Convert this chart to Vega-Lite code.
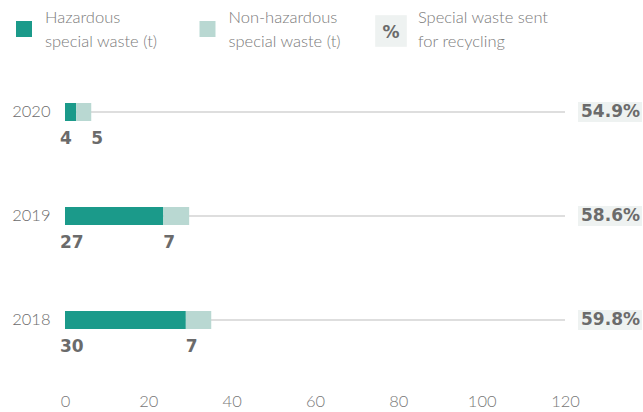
{
  "$schema": "https://vega.github.io/schema/vega-lite/v6.json",
  "padding": {"left": 0, "top": 0, "right": 0, "bottom": 0},
  "spacing": 0,
  "background": "white",
  "config": {"view": {"stroke": null}, "font": "Lato"},
  "datasets": {
    "segments": [
      {"year": "2020", "type": "Hazardous", "tons": 2.7, "label": "4"},
      {"year": "2020", "type": "Non-hazardous", "tons": 3.6, "label": "5"},
      {"year": "2019", "type": "Hazardous", "tons": 23.6, "label": "27"},
      {"year": "2019", "type": "Non-hazardous", "tons": 6.2, "label": "7"},
      {"year": "2018", "type": "Hazardous", "tons": 29.0, "label": "30"},
      {"year": "2018", "type": "Non-hazardous", "tons": 6.1, "label": "7"}
    ],
    "years": [
      {"year": "2020", "recycled": "54.9%"},
      {"year": "2019", "recycled": "58.6%"},
      {"year": "2018", "recycled": "59.8%"}
    ],
    "legendItems": [
      {"type": "Hazardous", "label": "Hazardous\nspecial waste (t)", "symbol": ""},
      {"type": "Non-hazardous", "label": "Non-hazardous\nspecial waste (t)", "symbol": ""},
      {"type": "Recycled", "label": "Special waste sent\nfor recycling", "symbol": "%"}
    ]
  },
  "vconcat": [
    {
      "width": 367,
      "height": 60,
      "data": {"name": "legendItems"},
      "encoding": {
        "x": {"field": "type", "type": "nominal", "scale": {"type": "point", "padding": 0, "domain": ["Hazardous", "Non-hazardous", "Recycled"]}, "axis": null}
      },
      "layer": [
        {
          "transform": [{"filter": "datum.type != 'Recycled'"}],
          "mark": {"type": "square", "size": 256, "opacity": 1, "xOffset": -41, "yOffset": -1},
          "encoding": {
            "color": {"field": "type", "type": "nominal", "scale": {"domain": ["Hazardous", "Non-hazardous"], "range": ["#1b9a8a", "#b9d8d2"]}, "legend": null}
          }
        },
        {
          "transform": [{"filter": "datum.type == 'Recycled'"}],
          "mark": {"type": "square", "size": 1000, "opacity": 1, "color": "#eef2f1", "xOffset": -41, "yOffset": 1}
        },
        {
          "transform": [{"filter": "datum.type == 'Recycled'"}],
          "mark": {"type": "text", "font": "DejaVu Sans", "fontWeight": "bold", "fontSize": 17, "color": "#6b6b6b", "xOffset": -41, "yOffset": 3, "baseline": "middle", "align": "center"},
          "encoding": {"text": {"field": "symbol"}}
        },
        {
          "transform": [{"filter": "datum.type != 'Recycled'"}],
          "mark": {"type": "text", "fontSize": 16.5, "fontWeight": 300, "color": "#7a7a7a", "align": "left", "baseline": "middle", "lineBreak": "\n", "lineHeight": 24, "xOffset": -41, "dx": 21, "yOffset": -12},
          "encoding": {"text": {"field": "label"}}
        },
        {
          "transform": [{"filter": "datum.type == 'Recycled'"}],
          "mark": {"type": "text", "fontSize": 16.5, "fontWeight": 300, "color": "#7a7a7a", "align": "left", "baseline": "middle", "lineBreak": "\n", "lineHeight": 24, "xOffset": -41, "dx": 27, "yOffset": -12},
          "encoding": {"text": {"field": "label"}}
        }
      ]
    },
    {
      "width": 500,
      "height": 312,
      "encoding": {
        "y": {
          "field": "year", "type": "ordinal", "sort": ["2020", "2019", "2018"],
          "scale": {"paddingInner": 0, "paddingOuter": 0},
          "axis": {"title": null, "domain": false, "ticks": false, "labelPadding": 15, "labelFontSize": 16.5, "labelFontWeight": 300, "labelColor": "#6b6b6b", "labelFont": "Lato", "minExtent": 65, "maxExtent": 65}
        }
      },
      "layer": [
        {
          "data": {"name": "years"},
          "mark": {"type": "rule", "color": "#dedede", "strokeWidth": 2},
          "encoding": {
            "x": {"datum": 0, "type": "quantitative", "scale": {"domain": [0, 120], "nice": false},
              "axis": {"title": null, "domain": false, "ticks": false, "grid": false, "labelFlush": false, "values": [0, 20, 40, 60, 80, 100, 120], "labelPadding": 21, "labelFontSize": 16.5, "labelFontWeight": 300, "labelColor": "#777777", "labelFont": "Lato"}},
            "x2": {"datum": 120}
          }
        },
        {
          "data": {"name": "segments"},
          "transform": [
            {"stack": "tons", "groupby": ["year"], "sort": [{"field": "type", "order": "ascending"}], "as": ["x0", "x1"]}
          ],
          "mark": {"type": "bar", "size": 18},
          "encoding": {
            "x": {"field": "x0", "type": "quantitative"},
            "x2": {"field": "x1"},
            "color": {"field": "type", "type": "nominal", "legend": null}
          }
        },
        {
          "data": {"name": "segments"},
          "transform": [
            {"filter": "datum.type == 'Hazardous'"}
          ],
          "mark": {"type": "text", "font": "DejaVu Sans", "fontWeight": "bold", "fontSize": 17, "color": "#6b6b6b", "align": "left", "baseline": "middle", "dy": 27, "dx": -5},
          "encoding": {
            "x": {"datum": 0, "type": "quantitative"},
            "text": {"field": "label"}
          }
        },
        {
          "data": {"name": "segments"},
          "transform": [
            {"stack": "tons", "groupby": ["year"], "sort": [{"field": "type", "order": "ascending"}], "as": ["x0", "x1"]},
            {"filter": "datum.type == 'Non-hazardous'"},
            {"calculate": "datum.x0 < 5 ? datum.x1 : datum.x0", "as": "labelPos"}
          ],
          "mark": {"type": "text", "font": "DejaVu Sans", "fontWeight": "bold", "fontSize": 17, "color": "#6b6b6b", "align": "left", "baseline": "middle", "dy": 27},
          "encoding": {
            "x": {"field": "labelPos", "type": "quantitative"},
            "text": {"field": "label"}
          }
        },
        {
          "data": {"name": "years"},
          "mark": {"type": "bar", "size": 20, "color": "#eef2f1", "xOffset": 13, "x2Offset": 77},
          "encoding": {
            "x": {"datum": 120, "type": "quantitative"},
            "x2": {"datum": 120}
          }
        },
        {
          "data": {"name": "years"},
          "mark": {"type": "text", "font": "DejaVu Sans", "fontWeight": "bold", "fontSize": 17, "color": "#6b6b6b", "align": "right", "baseline": "middle", "dx": 75},
          "encoding": {
            "x": {"datum": 120, "type": "quantitative"},
            "text": {"field": "recycled"}
          }
        }
      ]
    }
  ]
}
